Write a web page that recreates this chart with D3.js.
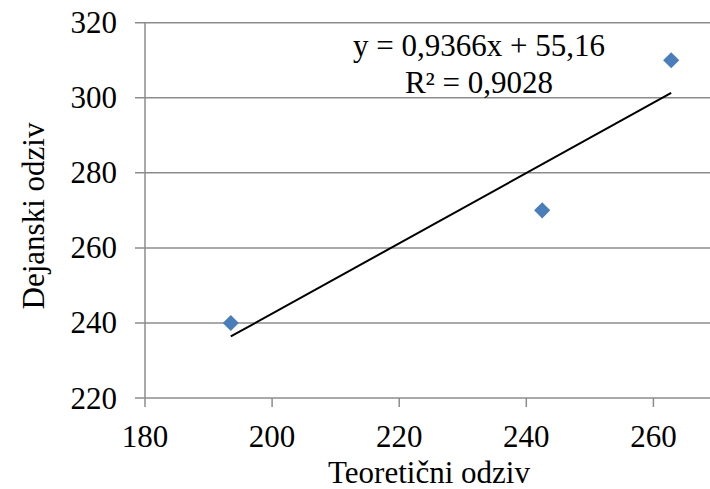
<!DOCTYPE html>
<html>
<head>
<meta charset="utf-8">
<script src="https://cdn.jsdelivr.net/npm/d3@7"></script>
<style>
  body { margin: 0; background: #fff; }
  text { font-family: "Liberation Serif", "Times New Roman", serif; fill: #000; }
</style>
</head>
<body>
<div id="chart"></div>
<script>
// data
var teoreticni = [193.5, 242.5, 262.8];
var dejanski = [240, 270, 310];
var xTicks = [180, 200, 220, 240, 260];
var yTicks = [220, 240, 260, 280, 300, 320];
var slope = 0.9366, intercept = 55.16;
var eqLines = ["y = 0,9366x + 55,16", "R² = 0,9028"];

var width = 710, height = 489;
var margin = {top: 22.7, right: 0, bottom: 91, left: 145};

var svg = d3.select("#chart")
  .append("svg")
    .attr("width", width)
    .attr("height", height);

var x = d3.scaleLinear()
  .domain([180, 180 + (width - margin.left) / 127.1 * 20])
  .range([margin.left, width]);

var y = d3.scaleLinear()
  .domain([220, 320])
  .range([height - margin.bottom, margin.top]);

var gridColor = "#8c8c8c";

// horizontal gridlines (with the little tick on the left)
svg.append("g")
  .selectAll("line")
  .data(yTicks)
  .enter()
  .append("line")
    .attr("x1", margin.left - 10)
    .attr("x2", width)
    .attr("y1", d => y(d))
    .attr("y2", d => y(d))
    .attr("stroke", gridColor)
    .attr("stroke-width", 1.5);

// y axis line
svg.append("line")
  .attr("x1", margin.left).attr("x2", margin.left)
  .attr("y1", y(320)).attr("y2", y(220))
  .attr("stroke", gridColor)
  .attr("stroke-width", 1.5);

// x ticks
svg.append("g")
  .selectAll("line")
  .data(xTicks)
  .enter()
  .append("line")
    .attr("x1", d => x(d))
    .attr("x2", d => x(d))
    .attr("y1", y(220))
    .attr("y2", y(220) + 9)
    .attr("stroke", gridColor)
    .attr("stroke-width", 1.5);

// tick labels
svg.append("g")
  .selectAll("text")
  .data(yTicks)
  .enter()
  .append("text")
    .attr("x", 117)
    .attr("y", d => y(d))
    .attr("dy", "0.34em")
    .attr("text-anchor", "end")
    .style("font-size", "31px")
    .text(d => d);

svg.append("g")
  .selectAll("text")
  .data(xTicks)
  .enter()
  .append("text")
    .attr("x", d => x(d))
    .attr("y", 447)
    .attr("text-anchor", "middle")
    .style("font-size", "31px")
    .text(d => d);

// axis titles
svg.append("text")
  .attr("x", 429)
  .attr("y", 483)
  .attr("text-anchor", "middle")
  .style("font-size", "31px")
  .text("Teoretični odziv");

svg.append("text")
  .attr("transform", "translate(44,216) rotate(-90)")
  .attr("text-anchor", "middle")
  .style("font-size", "31px")
  .text("Dejanski odziv");

// trendline over the data range
var xMin = d3.min(teoreticni), xMax = d3.max(teoreticni);
svg.append("line")
  .attr("x1", x(xMin))
  .attr("y1", y(slope * xMin + intercept))
  .attr("x2", x(xMax))
  .attr("y2", y(slope * xMax + intercept))
  .attr("stroke", "#000")
  .attr("stroke-width", 2);

// diamond markers
var pts = teoreticni.map((v, i) => ({x: v, y: dejanski[i]}));
svg.append("g")
  .selectAll("path")
  .data(pts)
  .enter()
  .append("path")
    .attr("d", d3.symbol().type(d3.symbolSquare).size(130))
    .attr("transform", d => "translate(" + x(d.x) + "," + y(d.y) + ") rotate(45)")
    .attr("fill", "#4a7ebb");

// equation label
svg.append("g")
  .selectAll("text")
  .data(eqLines)
  .enter()
  .append("text")
    .attr("x", 479)
    .attr("y", (d, i) => 56 + i * 37)
    .attr("text-anchor", "middle")
    .style("font-size", "31px")
    .text(d => d);
</script>
</body>
</html>
